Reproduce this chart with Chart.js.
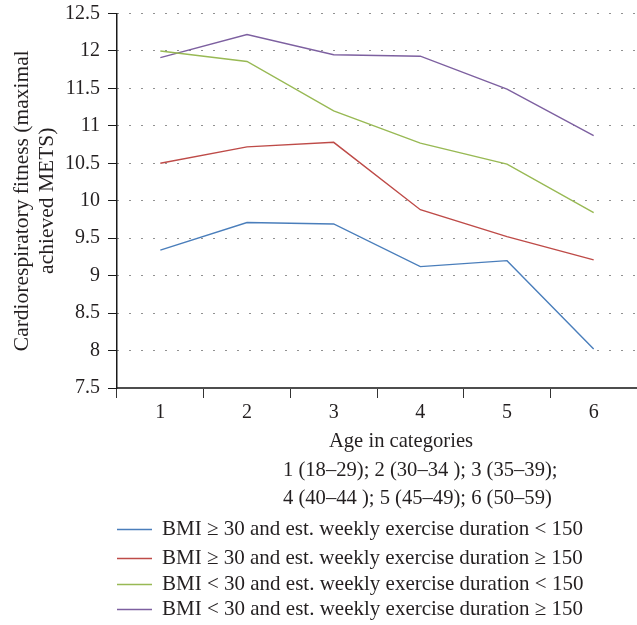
<!DOCTYPE html>
<html>
<head>
<meta charset="utf-8">
<script src="https://cdn.jsdelivr.net/npm/chart.js@4.4.0/dist/chart.umd.min.js"></script>
<style>
  html, body { margin: 0; padding: 0; background: #fff; }
</style>
</head>
<body>
<canvas id="chart" width="637" height="625"></canvas>
<script>
// age categories on the x axis
const categories = ['1', '2', '3', '4', '5', '6'];
const yTicks = [7.5, 8, 8.5, 9, 9.5, 10, 10.5, 11, 11.5, 12, 12.5];

const seriesNames = [
  'BMI \u2265 30 and est. weekly exercise duration < 150',
  'BMI \u2265 30 and est. weekly exercise duration \u2265 150',
  'BMI < 30 and est. weekly exercise duration < 150',
  'BMI < 30 and est. weekly exercise duration \u2265 150'
];
const obeseLowExercise = [9.34, 9.71, 9.69, 9.12, 9.20, 8.02];
const obeseHighExercise = [10.50, 10.72, 10.78, 9.88, 9.52, 9.21];
const leanLowExercise = [12.00, 11.86, 11.20, 10.77, 10.49, 9.84];
const leanHighExercise = [11.91, 12.22, 11.95, 11.93, 11.49, 10.87];

const colors = ['#4a7ebb', '#be4b48', '#98b954', '#7d60a0'];
const textColor = '#231f20';
const fontFamily = '"Liberation Serif", "Times New Roman", serif';

const xTitleLines = [
  'Age in categories',
  '1 (18\u201329); 2 (30\u201334 ); 3 (35\u201339);',
  '4 (40\u201344 ); 5 (45\u201349); 6 (50\u201359)'
];

// draws the x axis caption lines and the legend under the chart
const captionAndLegend = {
  id: 'captionAndLegend',
  afterDraw(chart) {
    const ctx = chart.ctx;
    ctx.save();
    ctx.font = '20.6px ' + fontFamily;
    ctx.fillStyle = textColor;
    ctx.textBaseline = 'middle';

    ctx.textAlign = 'center';
    ctx.fillText(xTitleLines[0], 401, 442);
    ctx.textAlign = 'left';
    ctx.fillText(xTitleLines[1], 283, 471);
    ctx.fillText(xTitleLines[2], 283, 499);

    ctx.font = '21px ' + fontFamily;
    const rows = [529, 558, 584, 609];
    chart.data.datasets.forEach((ds, i) => {
      ctx.strokeStyle = ds.borderColor;
      ctx.lineWidth = 1.5;
      ctx.beginPath();
      ctx.moveTo(117, rows[i] + 0.5);
      ctx.lineTo(152, rows[i] + 0.5);
      ctx.stroke();
      ctx.fillStyle = textColor;
      ctx.fillText(ds.label, 162, rows[i]);
    });
    ctx.restore();
  }
};

const ctx = document.getElementById('chart').getContext('2d');
new Chart(ctx, {
  type: 'line',
  data: {
    labels: categories,
    datasets: [obeseLowExercise, obeseHighExercise, leanLowExercise, leanHighExercise].map((values, i) => ({
      label: seriesNames[i],
      data: values,
      borderColor: colors[i],
      backgroundColor: colors[i],
      borderWidth: 1.4,
      pointRadius: 0,
      tension: 0
    }))
  },
  options: {
    responsive: false,
    animation: false,
    devicePixelRatio: 1,
    layout: {
      padding: { top: 0, right: 0, bottom: 0, left: 0 }
    },
    plugins: {
      legend: { display: false },
      tooltip: { enabled: false }
    },
    scales: {
      x: {
        type: 'category',
        offset: true,
        afterFit: (scale) => { scale.height = 625 - 388; },
        grid: {
          offset: true,
          drawOnChartArea: false,
          tickLength: 10,
          color: '#333'
        },
        border: { color: '#4d4d4d', width: 2 },
        ticks: {
          color: textColor,
          font: { family: fontFamily, size: 20 },
          padding: 3
        }
      },
      y: {
        min: 7.5,
        max: 12.5,
        afterFit: (scale) => {
          scale.width = 117;
          scale.paddingTop = 13.5;
          scale.paddingBottom = 0;
        },
        afterBuildTicks: (scale) => { scale.ticks = yTicks.map(v => ({ value: v })); },
        grid: {
          color: '#222',
          tickBorderDash: [],
          tickColor: '#1a1a1a',
          tickLength: 9
        },
        border: { color: '#1a1a1a', width: 1.5, dash: [1, 11] },
        ticks: {
          color: textColor,
          font: { family: fontFamily, size: 20 },
          padding: 8,
          callback: (v) => String(v)
        },
        title: {
          display: true,
          text: ['Cardiorespiratory fitness (maximal', 'achieved METS)'],
          color: textColor,
          font: { family: fontFamily, size: 21.5, lineHeight: 1.18 },
          padding: { top: 9.5, bottom: 0 }
        }
      }
    }
  },
  plugins: [captionAndLegend]
});
</script>
</body>
</html>
